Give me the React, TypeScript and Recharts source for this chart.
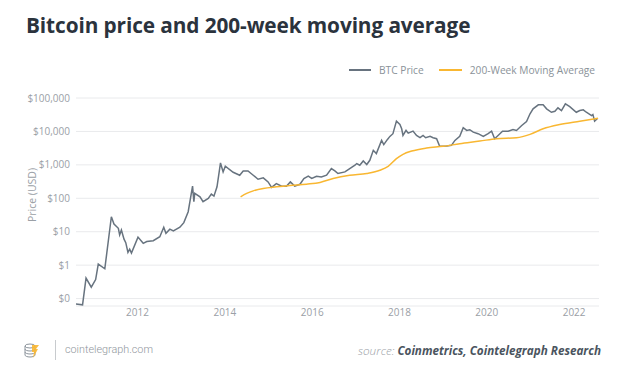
import React from 'react';
import { LineChart, Line, XAxis, YAxis, CartesianGrid } from 'recharts';

// decimal year + price
const BTC_T = [
  2010.56, 2010.74, 2010.82, 2010.94, 2011.04, 2011.10, 2011.25, 2011.40, 2011.46, 2011.56,
  2011.59, 2011.63, 2011.69, 2011.73, 2011.78, 2011.82, 2011.86, 2012.01, 2012.13, 2012.21,
  2012.36, 2012.51, 2012.60, 2012.65, 2012.74, 2012.82, 2012.97, 2013.06, 2013.16, 2013.26,
  2013.29, 2013.31, 2013.43, 2013.50, 2013.62, 2013.69, 2013.75, 2013.82, 2013.90, 2013.96,
  2014.01, 2014.19, 2014.34, 2014.42, 2014.53, 2014.65, 2014.76, 2014.88, 2014.99, 2015.07,
  2015.18, 2015.30, 2015.41, 2015.50, 2015.60, 2015.72, 2015.81, 2015.91, 2015.99, 2016.10,
  2016.21, 2016.33, 2016.44, 2016.52, 2016.59, 2016.75, 2016.86, 2016.98, 2017.02, 2017.09,
  2017.17, 2017.25, 2017.32, 2017.40, 2017.47, 2017.59, 2017.64, 2017.72, 2017.78, 2017.85,
  2017.93, 2018.01, 2018.05, 2018.08, 2018.15, 2018.20, 2018.31, 2018.39, 2018.47, 2018.54,
  2018.60, 2018.70, 2018.77, 2018.85, 2018.92, 2019.08, 2019.19, 2019.27, 2019.38, 2019.46,
  2019.54, 2019.61, 2019.69, 2019.80, 2019.92, 2020.03, 2020.11, 2020.18, 2020.30, 2020.36,
  2020.49, 2020.60, 2020.68, 2020.80, 2020.91, 2020.99, 2021.06, 2021.18, 2021.29, 2021.37,
  2021.48, 2021.56, 2021.63, 2021.71, 2021.80, 2021.90, 2022.05, 2022.13, 2022.21, 2022.28,
  2022.40, 2022.43, 2022.47, 2022.53,
];
const BTC_PRICE = [
  0.07, 0.065, 0.41, 0.22, 0.37, 1.08, 0.78, 28, 17, 12.7,
  8, 11.3, 6, 4.7, 2.4, 3.0, 2.3, 6.9, 4.5, 5.1,
  5.4, 7.1, 13.6, 9, 11.9, 10.6, 13.6, 18.7, 39.7, 231,
  79, 140, 111, 79, 99, 133, 116, 220, 1140, 615,
  908, 600, 490, 658, 658, 490, 372, 408, 309, 211,
  276, 231, 231, 309, 231, 263, 391, 458, 391, 458,
  437, 490, 776, 658, 551, 615, 776, 973, 1094, 973,
  1306, 1021, 1371, 2723, 2168, 5395, 4018, 5662, 7100, 8550,
  20270, 16150, 12020, 7600, 10720, 8900, 10200, 7600, 6490, 7600,
  6490, 7100, 6490, 6070, 3580, 3660, 3830, 5395, 7100, 12880,
  10720, 11250, 9530, 8550, 7100, 8550, 10200, 6070, 8550, 10200,
  10200, 11480, 10720, 15100, 19850, 33650, 47400, 62400, 62400, 47400,
  37500, 40200, 50700, 42200, 66700, 55400, 37500, 42200, 44300, 37500,
  29900, 32100, 20270, 23900,
];

const MA_T = [
  2014.36, 2014.50, 2014.65, 2014.88, 2015.18, 2015.49, 2015.87, 2016.18, 2016.48, 2016.86,
  2017.25, 2017.55, 2017.74, 2017.93, 2018.08, 2018.28, 2018.62, 2019.00, 2019.38, 2019.84,
  2020.22, 2020.68, 2020.99, 2021.29, 2021.67, 2022.13, 2022.55,
];
const MA_PRICE = [
  111, 140, 167, 197, 220, 242, 265, 297, 391, 490,
  555, 690, 908, 1540, 2065, 2590, 3190, 3580, 4300, 5140,
  6070, 6490, 8150, 12020, 16150, 20270, 24900,
];

const YEAR_TICKS = [2012, 2014, 2016, 2018, 2020, 2022];
const PRICE_TICKS = [0.1, 1, 10, 100, 1000, 10000, 100000];

const btcData = BTC_T.map((t, i) => ({ t, v: BTC_PRICE[i] }));
const maData = MA_T.map((t, i) => ({ t, v: MA_PRICE[i] }));

const GREY = '#67737f';
const GOLD = '#f9b731';
const FONT = '"Open Sans", sans-serif';

export default function App() {
  return (
    <div style={{ position: 'fixed', left: 0, top: 0, width: 627, height: 376, background: '#fff', fontFamily: FONT }}>
      <div style={{ position: 'absolute', left: 26, top: 11, fontSize: 20.8, fontWeight: 700, color: '#2b333d', whiteSpace: 'nowrap', letterSpacing: -0.1 }}>
        Bitcoin price and 200-week moving average
      </div>

      {/* legend */}
      <div style={{ position: 'absolute', left: 349, top: 62, height: 16, display: 'flex', alignItems: 'center', fontSize: 10.2, color: '#8a9299', whiteSpace: 'nowrap' }}>
        <span style={{ width: 22, height: 2, background: GREY, display: 'inline-block' }} />
        <span style={{ marginLeft: 8 }}>BTC Price</span>
        <span style={{ width: 23, height: 2, background: GOLD, display: 'inline-block', marginLeft: 15 }} />
        <span style={{ marginLeft: 8 }}>200-Week Moving Average</span>
      </div>

      <div style={{ position: 'absolute', left: 32, top: 195, transform: 'translate(-50%, -50%) rotate(-90deg)', fontSize: 10.5, color: '#9aa0a6', whiteSpace: 'nowrap' }}>
        Price (USD)
      </div>

      <div style={{ position: 'absolute', left: 0, top: 0 }}>
        <LineChart width={627} height={376} margin={{ top: 98, right: 28, bottom: 50, left: 16 }}>
          <CartesianGrid vertical={false} stroke="#e9eaec" />
          <XAxis
            type="number"
            dataKey="t"
            domain={[2010.59, 2022.57]}
            ticks={YEAR_TICKS}
            allowDataOverflow
            axisLine={false}
            tickLine={false}
            tickSize={0}
            tickMargin={3}
            height={20}
            tick={{ fontSize: 10, fill: '#9aa0a6', fontFamily: FONT }}
          />
          <YAxis
            type="number"
            dataKey="v"
            scale="log"
            domain={[0.06, 100000]}
            ticks={PRICE_TICKS}
            allowDataOverflow
            axisLine={false}
            tickLine={false}
            tickSize={0}
            tickMargin={6}
            width={60}
            tick={{ fontSize: 10, fill: '#9aa0a6', fontFamily: FONT }}
            tickFormatter={(v: number) => `$${Math.round(v).toLocaleString('en-US')}`}
          />
          <Line data={btcData} dataKey="v" stroke={GREY} strokeWidth={1.5} dot={false} isAnimationActive={false} />
          <Line data={maData} dataKey="v" type="monotone" stroke={GOLD} strokeWidth={1.5} dot={false} isAnimationActive={false} />
        </LineChart>
      </div>

      {/* footer */}
      <svg style={{ position: 'absolute', left: 24, top: 342 }} width={16} height={17} viewBox="0 0 16 17">
        <g fill="none" stroke="#8c949c" strokeWidth={1}>
          <ellipse cx={6} cy={4} rx={5} ry={2} />
          <path d="M1 4v9c0 1.1 2.2 2 5 2s5-0.9 5-2V4" />
          <path d="M1 7c0 1.1 2.2 2 5 2s5-0.9 5-2M1 10c0 1.1 2.2 2 5 2s5-0.9 5-2" />
        </g>
        <path d="M8 3h7l-3 4h2l-5 9 1-6H8z" fill={GOLD} opacity={0.9} />
      </svg>
      <div style={{ position: 'absolute', left: 55, top: 340, width: 1, height: 20, background: '#c8cbce' }} />
      <div style={{ position: 'absolute', left: 65, top: 343, fontSize: 10.8, fontWeight: 300, color: '#8f969c', fontFamily: 'Roboto, sans-serif', whiteSpace: 'nowrap' }}>
        cointelegraph.com
      </div>
      <div style={{ position: 'absolute', right: 26, top: 342, fontSize: 11.7, fontStyle: 'italic', whiteSpace: 'nowrap' }}>
        <span style={{ color: '#9aa0a6', fontWeight: 300 }}>source: </span>
        <span style={{ color: '#4a545e', fontWeight: 700 }}>Coinmetrics, Cointelegraph Research</span>
      </div>
    </div>
  );
}
